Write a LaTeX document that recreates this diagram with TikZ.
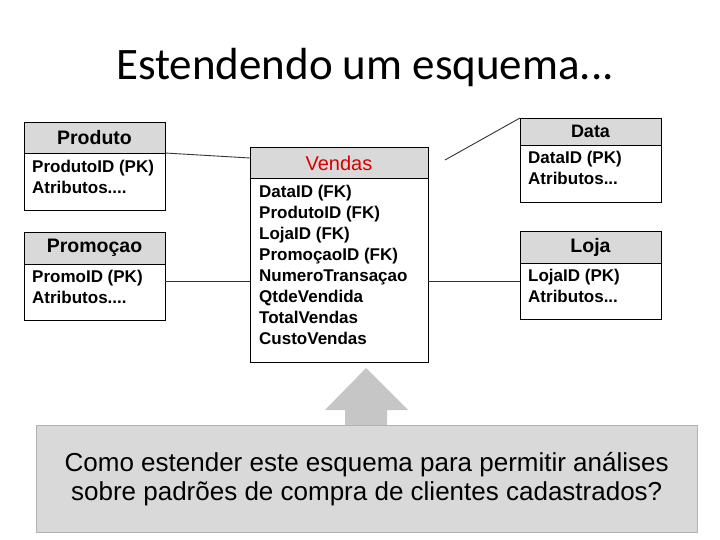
\documentclass[tikz,border=0pt]{standalone}
\usepackage{fontspec}
\setmainfont{Liberation Sans}
\newfontfamily\titlefont{Carlito}
\begin{document}
\begin{tikzpicture}[x=1pt,y=-1pt,
  hdr/.style={draw=black,line width=0.8pt,fill=gray!30},
  bod/.style={draw=black,line width=0.8pt,fill=white},
  htxt/.style={font=\fontsize{19.5}{21}\selectfont\bfseries},
  btxt/.style={font=\fontsize{17}{21}\selectfont\bfseries,align=left,anchor=north west,inner sep=0pt},
  conn/.style={draw=black!80,line width=0.9pt}]
\useasboundingbox (0,0) rectangle (720,540);
\node[font=\titlefont\fontsize{45}{47}\selectfont] (title) at (365,68) {Estendendo um esquema...};
% Produto
\draw[bod] (24,153) rectangle (165,210);
\draw[hdr] (24,122) rectangle (165,153);
\node[htxt] (hprod) at (94.5,138) {Produto};
\node[btxt] (bprod) at (32,160) {ProdutoID (PK)\\Atributos....};
\coordinate (prodR) at (165,153);
% Promocao
\draw[bod] (24,264) rectangle (165,320);
\draw[hdr] (24,232) rectangle (165,264);
\node[htxt] (hpromo) at (94.5,248) {Promoçao};
\node[btxt] (bpromo) at (32,270) {PromoID (PK)\\Atributos....};
\coordinate (promoR) at (165,281);
% Vendas
\draw[bod] (250,178) rectangle (428,362);
\draw[hdr] (250,147) rectangle (428,178);
\node[htxt,text=red!85!black,font=\fontsize{20}{21}\selectfont] (hvend) at (339,163) {Vendas};
\node[btxt] (bvend) at (259,185) {DataID (FK)\\ProdutoID (FK)\\LojaID (FK)\\PromoçaoID (FK)\\NumeroTransaçao\\QtdeVendida\\TotalVendas\\CustoVendas};
\coordinate (vendL1) at (250,158);
\coordinate (vendL2) at (250,281);
\coordinate (vendR1) at (445,160);
\coordinate (vendR2) at (428,281);
% Data
\draw[bod] (520,145) rectangle (661,202);
\draw[hdr] (520,118) rectangle (661,145);
\node[htxt,font=\fontsize{18}{19}\selectfont\bfseries] (hdata) at (590.5,131) {Data};
\node[btxt] (bdata) at (528,151) {DataID (PK)\\Atributos...};
\coordinate (dataL) at (520,118);
% Loja
\draw[bod] (520,263) rectangle (661,319);
\draw[hdr] (520,231) rectangle (661,263);
\node[htxt] (hloja) at (590.5,247) {Loja};
\node[btxt] (bloja) at (528,269) {LojaID (PK)\\Atributos...};
\coordinate (lojaL) at (520,281);
% connectors
\draw[conn] (prodR) -- (vendL1);
\draw[conn] (promoR) -- (vendL2);
\draw[conn] (vendR1) -- (dataL);
\draw[conn] (vendR2) -- (lojaL);
% arrow
\fill[gray!45] (345,425) -- (345,410) -- (325,410) -- (366,368) -- (408,410) -- (387,410) -- (387,425) -- cycle;
% question box
\node[draw=gray!60,fill=gray!30,minimum width=661,minimum height=107,anchor=north west,inner sep=0pt,
  font=\fontsize{26}{29}\selectfont,align=center] (q) at (36,425)
  {Como estender este esquema para permitir análises\\sobre padrões de compra de clientes cadastrados?};
\end{tikzpicture}
\end{document}
